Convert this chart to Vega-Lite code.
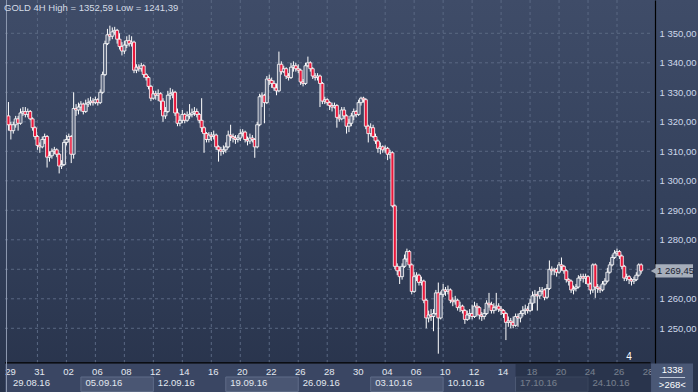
{
"$schema":"https://vega.github.io/schema/vega-lite/v6.json",
"width":698,"height":392,"autosize":{"type":"none"},"padding":0,
"background":"#2a354e",
"title":{"text":"GOLD 4H High = 1352,59 Low = 1241,39","anchor":"start","frame":"group","orient":"top","offset":-12.5,"dx":4,"font":"Liberation Sans","fontSize":9.5,"fontWeight":"normal","color":"#d4dbe6"},
"config":{"view":{"stroke":null,"fill":{"gradient":"linear","x1":0,"y1":0,"x2":0,"y2":1,"stops":[{"offset":0,"color":"#3f4c68"},{"offset":0.5,"color":"#34415c"},{"offset":1,"color":"#28334b"}]}},"axisX":{"disable":true},"text":{"font":"Liberation Sans"}},
"datasets":{
"hg":[{"v":1250},{"v":1260},{"v":1270},{"v":1280},{"v":1290},{"v":1300},{"v":1310},{"v":1320},{"v":1330},{"v":1340},{"v":1350}],
"days":[{"i":0,"lab":"29"},{"i":12,"lab":"31"},{"i":24,"lab":"02"},{"i":36,"lab":"06"},{"i":48,"lab":"08"},{"i":60,"lab":"12"},{"i":72,"lab":"14"},{"i":84,"lab":"16"},{"i":96,"lab":"20"},{"i":108,"lab":"22"},{"i":120,"lab":"26"},{"i":132,"lab":"28"},{"i":144,"lab":"30"},{"i":156,"lab":"04"},{"i":168,"lab":"06"},{"i":180,"lab":"10"},{"i":192,"lab":"12"},{"i":204,"lab":"14"},{"i":216,"lab":"18"},{"i":228,"lab":"20"},{"i":240,"lab":"24"},{"i":252,"lab":"26"},{"i":264,"lab":"28"}],
"weeks":[{"w0":0,"w1":30,"lab":"29.08.16","hl":0},{"w0":30,"w1":60,"lab":"05.09.16","hl":1},{"w0":60,"w1":90,"lab":"12.09.16","hl":0},{"w0":90,"w1":120,"lab":"19.09.16","hl":1},{"w0":120,"w1":150,"lab":"26.09.16","hl":0},{"w0":150,"w1":180,"lab":"03.10.16","hl":1},{"w0":180,"w1":210,"lab":"10.10.16","hl":0},{"w0":210,"w1":240,"lab":"17.10.16","hl":1},{"w0":240,"w1":270,"lab":"24.10.16","hl":0}],
"last":[{"c":1269.45,"lab":"1 269,45","bars":"1338","cnt":">268<","n":"4"}],
"bars":[
{"i":0,"o":1322,"h":1326.7,"l":1317,"c":1319},
{"i":1,"o":1319,"h":1320,"l":1314,"c":1317},
{"i":2,"o":1317,"h":1320,"l":1316,"c":1319},
{"i":3,"o":1319,"h":1322,"l":1318,"c":1321},
{"i":4,"o":1321,"h":1322,"l":1317,"c":1319.5},
{"i":5,"o":1319.5,"h":1324.5,"l":1319,"c":1323},
{"i":6,"o":1323,"h":1325,"l":1322,"c":1323.5},
{"i":7,"o":1323.5,"h":1325,"l":1321.5,"c":1322.5},
{"i":8,"o":1322.5,"h":1324.5,"l":1321.5,"c":1323.5},
{"i":9,"o":1323.5,"h":1324,"l":1320.5,"c":1321},
{"i":10,"o":1321,"h":1321.5,"l":1317,"c":1318},
{"i":11,"o":1318,"h":1318.5,"l":1314,"c":1315},
{"i":12,"o":1315,"h":1315.5,"l":1310.5,"c":1312},
{"i":13,"o":1312,"h":1313,"l":1309.5,"c":1311.5},
{"i":14,"o":1311.5,"h":1315,"l":1311,"c":1314},
{"i":15,"o":1314,"h":1316,"l":1312.5,"c":1315},
{"i":16,"o":1315,"h":1315.5,"l":1304.5,"c":1308},
{"i":17,"o":1308,"h":1310,"l":1306.5,"c":1308.5},
{"i":18,"o":1308.5,"h":1311,"l":1307.5,"c":1310},
{"i":19,"o":1310,"h":1311.5,"l":1309,"c":1310.5},
{"i":20,"o":1310.5,"h":1311,"l":1308,"c":1309},
{"i":21,"o":1309,"h":1309.5,"l":1302.5,"c":1305},
{"i":22,"o":1305,"h":1307,"l":1304,"c":1305.5},
{"i":23,"o":1305.5,"h":1314,"l":1305,"c":1313},
{"i":24,"o":1313,"h":1315.5,"l":1312,"c":1314},
{"i":25,"o":1314,"h":1316,"l":1313,"c":1315},
{"i":26,"o":1315,"h":1315.5,"l":1306,"c":1309},
{"i":27,"o":1309,"h":1330,"l":1307.5,"c":1324.5},
{"i":28,"o":1324.5,"h":1326,"l":1322,"c":1324},
{"i":29,"o":1324,"h":1326.5,"l":1322.5,"c":1325},
{"i":30,"o":1325,"h":1327,"l":1323.5,"c":1326},
{"i":31,"o":1326,"h":1326.5,"l":1322.5,"c":1323.5},
{"i":32,"o":1323.5,"h":1327.5,"l":1323,"c":1326},
{"i":33,"o":1326,"h":1328,"l":1325,"c":1326.5},
{"i":34,"o":1326.5,"h":1328.5,"l":1325.5,"c":1327},
{"i":35,"o":1327,"h":1328,"l":1325.5,"c":1326.5},
{"i":36,"o":1326.5,"h":1328.5,"l":1326,"c":1327.5},
{"i":37,"o":1327.5,"h":1328,"l":1325.5,"c":1326.5},
{"i":38,"o":1326.5,"h":1331,"l":1326,"c":1330},
{"i":39,"o":1330,"h":1337,"l":1329.5,"c":1336},
{"i":40,"o":1336,"h":1347.5,"l":1335.5,"c":1346.5},
{"i":41,"o":1346.5,"h":1351.5,"l":1346,"c":1349.5},
{"i":42,"o":1349.5,"h":1352.59,"l":1347.5,"c":1349},
{"i":43,"o":1349,"h":1352,"l":1348,"c":1350.5},
{"i":44,"o":1350.5,"h":1352.2,"l":1349.5,"c":1351},
{"i":45,"o":1351,"h":1351.5,"l":1346.5,"c":1348},
{"i":46,"o":1348,"h":1350,"l":1344.5,"c":1345.5},
{"i":47,"o":1345.5,"h":1347,"l":1342.5,"c":1344},
{"i":48,"o":1344,"h":1347.5,"l":1343,"c":1346},
{"i":49,"o":1346,"h":1349,"l":1345,"c":1347.5},
{"i":50,"o":1347.5,"h":1349.5,"l":1345.5,"c":1346.5},
{"i":51,"o":1346.5,"h":1349,"l":1345.5,"c":1347},
{"i":52,"o":1347,"h":1347.5,"l":1336.5,"c":1337.5},
{"i":53,"o":1337.5,"h":1339.5,"l":1336.5,"c":1338.5},
{"i":54,"o":1338.5,"h":1339.5,"l":1337,"c":1338},
{"i":55,"o":1338,"h":1340,"l":1337,"c":1339},
{"i":56,"o":1339,"h":1339.5,"l":1335,"c":1336},
{"i":57,"o":1336,"h":1336.5,"l":1334,"c":1335},
{"i":58,"o":1335,"h":1335.5,"l":1331,"c":1332},
{"i":59,"o":1332,"h":1332.5,"l":1327,"c":1328},
{"i":60,"o":1328,"h":1330.5,"l":1327.5,"c":1329.5},
{"i":61,"o":1329.5,"h":1330.5,"l":1327.5,"c":1329},
{"i":62,"o":1329,"h":1331,"l":1327,"c":1329.5},
{"i":63,"o":1329.5,"h":1330,"l":1324,"c":1327},
{"i":64,"o":1327,"h":1328,"l":1320,"c":1322},
{"i":65,"o":1322,"h":1325,"l":1321,"c":1323.5},
{"i":66,"o":1323.5,"h":1330.5,"l":1323,"c":1329},
{"i":67,"o":1329,"h":1331.5,"l":1327.5,"c":1329.5},
{"i":68,"o":1329.5,"h":1331,"l":1328,"c":1330},
{"i":69,"o":1330,"h":1330.5,"l":1322,"c":1323},
{"i":70,"o":1323,"h":1324.5,"l":1318.5,"c":1319.5},
{"i":71,"o":1319.5,"h":1322,"l":1318.5,"c":1320.5},
{"i":72,"o":1320.5,"h":1324,"l":1319.5,"c":1322.5},
{"i":73,"o":1322.5,"h":1323,"l":1319.5,"c":1320.5},
{"i":74,"o":1320.5,"h":1323.5,"l":1320,"c":1322},
{"i":75,"o":1322,"h":1326,"l":1321,"c":1322.5},
{"i":76,"o":1322.5,"h":1324.5,"l":1321.5,"c":1323},
{"i":77,"o":1323,"h":1325,"l":1322,"c":1323.5},
{"i":78,"o":1323.5,"h":1324.5,"l":1321.5,"c":1322.5},
{"i":79,"o":1322.5,"h":1323,"l":1319.5,"c":1320.5},
{"i":80,"o":1320.5,"h":1328,"l":1316.5,"c":1318},
{"i":81,"o":1318,"h":1318.5,"l":1309.5,"c":1316},
{"i":82,"o":1316,"h":1316.5,"l":1313,"c":1314},
{"i":83,"o":1314,"h":1316.5,"l":1313,"c":1315.5},
{"i":84,"o":1315.5,"h":1316.5,"l":1313.5,"c":1315},
{"i":85,"o":1315,"h":1317,"l":1314,"c":1315.5},
{"i":86,"o":1315.5,"h":1316,"l":1310.5,"c":1311.5},
{"i":87,"o":1311.5,"h":1312,"l":1306.5,"c":1310.5},
{"i":88,"o":1310.5,"h":1311.5,"l":1308.5,"c":1310},
{"i":89,"o":1310,"h":1312,"l":1309,"c":1310.5},
{"i":90,"o":1310.5,"h":1313,"l":1309.5,"c":1311.5},
{"i":91,"o":1311.5,"h":1317,"l":1311,"c":1315.5},
{"i":92,"o":1315.5,"h":1319,"l":1313.5,"c":1315},
{"i":93,"o":1315,"h":1316,"l":1313,"c":1314.5},
{"i":94,"o":1314.5,"h":1315.5,"l":1312.5,"c":1314},
{"i":95,"o":1314,"h":1315.5,"l":1313,"c":1314.5},
{"i":96,"o":1314.5,"h":1317.5,"l":1313.5,"c":1316},
{"i":97,"o":1316,"h":1317.5,"l":1315,"c":1316.5},
{"i":98,"o":1316.5,"h":1317,"l":1313,"c":1314},
{"i":99,"o":1314,"h":1315,"l":1312,"c":1313.5},
{"i":100,"o":1313.5,"h":1316,"l":1312.5,"c":1314.5},
{"i":101,"o":1314.5,"h":1315.5,"l":1313,"c":1314},
{"i":102,"o":1314,"h":1314.5,"l":1307.8,"c":1311.5},
{"i":103,"o":1311.5,"h":1320,"l":1311,"c":1319},
{"i":104,"o":1319,"h":1329.5,"l":1318.5,"c":1328.5},
{"i":105,"o":1328.5,"h":1330,"l":1325,"c":1329},
{"i":106,"o":1329,"h":1329.5,"l":1319.5,"c":1326.5},
{"i":107,"o":1326.5,"h":1335.5,"l":1326,"c":1334.5},
{"i":108,"o":1334.5,"h":1336,"l":1332.5,"c":1334},
{"i":109,"o":1334,"h":1335,"l":1331.5,"c":1333},
{"i":110,"o":1333,"h":1334,"l":1330.5,"c":1331.5},
{"i":111,"o":1331.5,"h":1333,"l":1329,"c":1330.5},
{"i":112,"o":1330.5,"h":1343.8,"l":1330,"c":1339.5},
{"i":113,"o":1339.5,"h":1340.5,"l":1336,"c":1337},
{"i":114,"o":1337,"h":1339,"l":1336.5,"c":1338},
{"i":115,"o":1338,"h":1338.5,"l":1334.5,"c":1335.5},
{"i":116,"o":1335.5,"h":1336.5,"l":1334,"c":1335},
{"i":117,"o":1335,"h":1340,"l":1334.5,"c":1338.5},
{"i":118,"o":1338.5,"h":1340.5,"l":1337,"c":1339},
{"i":119,"o":1339,"h":1340,"l":1337,"c":1338},
{"i":120,"o":1338,"h":1339.5,"l":1336.5,"c":1337.5},
{"i":121,"o":1337.5,"h":1338,"l":1332.5,"c":1333.5},
{"i":122,"o":1333.5,"h":1334.5,"l":1332,"c":1333},
{"i":123,"o":1333,"h":1340,"l":1332.5,"c":1339},
{"i":124,"o":1339,"h":1342.1,"l":1338.5,"c":1340},
{"i":125,"o":1340,"h":1340.5,"l":1337,"c":1338},
{"i":126,"o":1338,"h":1338.5,"l":1334.5,"c":1335.5},
{"i":127,"o":1335.5,"h":1336.5,"l":1334,"c":1335},
{"i":128,"o":1335,"h":1336.5,"l":1334,"c":1335.5},
{"i":129,"o":1335.5,"h":1336,"l":1325,"c":1333},
{"i":130,"o":1333,"h":1333.5,"l":1326,"c":1327},
{"i":131,"o":1327,"h":1328.5,"l":1326,"c":1327.5},
{"i":132,"o":1327.5,"h":1328,"l":1325.5,"c":1326.5},
{"i":133,"o":1326.5,"h":1327,"l":1324,"c":1325.5},
{"i":134,"o":1325.5,"h":1326.5,"l":1323.5,"c":1325},
{"i":135,"o":1325,"h":1326.5,"l":1324.5,"c":1325.5},
{"i":136,"o":1325.5,"h":1326,"l":1318,"c":1321.5},
{"i":137,"o":1321.5,"h":1322.5,"l":1320,"c":1321},
{"i":138,"o":1321,"h":1325,"l":1320.5,"c":1324},
{"i":139,"o":1324,"h":1325,"l":1321,"c":1322},
{"i":140,"o":1322,"h":1322.5,"l":1316,"c":1318.5},
{"i":141,"o":1318.5,"h":1321,"l":1316.5,"c":1319.5},
{"i":142,"o":1319.5,"h":1323,"l":1318.5,"c":1322},
{"i":143,"o":1322,"h":1324.5,"l":1320.5,"c":1323.5},
{"i":144,"o":1323.5,"h":1324,"l":1321.5,"c":1322.5},
{"i":145,"o":1322.5,"h":1327.5,"l":1322,"c":1326.5},
{"i":146,"o":1326.5,"h":1328.5,"l":1325.5,"c":1328},
{"i":147,"o":1328,"h":1328.5,"l":1326.5,"c":1327.5},
{"i":148,"o":1327.5,"h":1328,"l":1317.5,"c":1318.5},
{"i":149,"o":1318.5,"h":1319,"l":1313,"c":1316},
{"i":150,"o":1316,"h":1319.5,"l":1315,"c":1318},
{"i":151,"o":1318,"h":1319,"l":1314.5,"c":1315},
{"i":152,"o":1315,"h":1316,"l":1312.5,"c":1313.5},
{"i":153,"o":1313.5,"h":1314,"l":1309.5,"c":1311},
{"i":154,"o":1311,"h":1313,"l":1309,"c":1311.5},
{"i":155,"o":1311.5,"h":1312,"l":1309.5,"c":1310.5},
{"i":156,"o":1310.5,"h":1312,"l":1309.5,"c":1311},
{"i":157,"o":1311,"h":1311.5,"l":1307,"c":1309},
{"i":158,"o":1309,"h":1310.5,"l":1307.5,"c":1309.5},
{"i":159,"o":1309.5,"h":1310,"l":1291,"c":1291.5},
{"i":160,"o":1291.5,"h":1292,"l":1270,"c":1271},
{"i":161,"o":1271,"h":1272,"l":1268,"c":1269.5},
{"i":162,"o":1269.5,"h":1271,"l":1265,"c":1267.5},
{"i":163,"o":1267.5,"h":1272,"l":1266.5,"c":1271},
{"i":164,"o":1271,"h":1275,"l":1270.5,"c":1273.5},
{"i":165,"o":1273.5,"h":1277,"l":1272.5,"c":1276},
{"i":166,"o":1276,"h":1276.5,"l":1270.5,"c":1271.5},
{"i":167,"o":1271.5,"h":1272,"l":1261.5,"c":1262.5},
{"i":168,"o":1262.5,"h":1269,"l":1262,"c":1267.5},
{"i":169,"o":1267.5,"h":1269,"l":1266,"c":1268},
{"i":170,"o":1268,"h":1268.5,"l":1264.5,"c":1265.5},
{"i":171,"o":1265.5,"h":1267.5,"l":1264.5,"c":1266},
{"i":172,"o":1266,"h":1266.5,"l":1258.5,"c":1259.5},
{"i":173,"o":1259.5,"h":1260,"l":1250,"c":1253.5},
{"i":174,"o":1253.5,"h":1256,"l":1252,"c":1254.5},
{"i":175,"o":1254.5,"h":1256.5,"l":1252.5,"c":1254},
{"i":176,"o":1254,"h":1256.5,"l":1249,"c":1255},
{"i":177,"o":1255,"h":1263,"l":1254.5,"c":1262},
{"i":178,"o":1262,"h":1265.5,"l":1241.39,"c":1253.5},
{"i":179,"o":1253.5,"h":1262.5,"l":1253,"c":1261.5},
{"i":180,"o":1261.5,"h":1265,"l":1260.5,"c":1263},
{"i":181,"o":1263,"h":1264,"l":1261,"c":1262.5},
{"i":182,"o":1262.5,"h":1264.5,"l":1261.5,"c":1263},
{"i":183,"o":1263,"h":1263.5,"l":1258.5,"c":1259.5},
{"i":184,"o":1259.5,"h":1260.5,"l":1257.5,"c":1259},
{"i":185,"o":1259,"h":1261,"l":1258,"c":1259.5},
{"i":186,"o":1259.5,"h":1260,"l":1256,"c":1257},
{"i":187,"o":1257,"h":1259,"l":1255.5,"c":1257.5},
{"i":188,"o":1257.5,"h":1258,"l":1255,"c":1256},
{"i":189,"o":1256,"h":1256.5,"l":1251.5,"c":1253},
{"i":190,"o":1253,"h":1256,"l":1252.5,"c":1254.5},
{"i":191,"o":1254.5,"h":1256.5,"l":1253,"c":1255},
{"i":192,"o":1255,"h":1258,"l":1253,"c":1254},
{"i":193,"o":1254,"h":1259,"l":1253.5,"c":1257.5},
{"i":194,"o":1257.5,"h":1258.5,"l":1254,"c":1257},
{"i":195,"o":1257,"h":1257.5,"l":1253,"c":1254.5},
{"i":196,"o":1254.5,"h":1255.5,"l":1252.5,"c":1254},
{"i":197,"o":1254,"h":1256.5,"l":1253,"c":1255},
{"i":198,"o":1255,"h":1259.5,"l":1254.5,"c":1258.5},
{"i":199,"o":1258.5,"h":1262,"l":1257,"c":1258},
{"i":200,"o":1258,"h":1259,"l":1255,"c":1256},
{"i":201,"o":1256,"h":1258.5,"l":1255,"c":1257},
{"i":202,"o":1257,"h":1262,"l":1256,"c":1257.5},
{"i":203,"o":1257.5,"h":1258.5,"l":1255.5,"c":1256.5},
{"i":204,"o":1256.5,"h":1257.5,"l":1254.5,"c":1256},
{"i":205,"o":1256,"h":1256.5,"l":1253.5,"c":1255},
{"i":206,"o":1255,"h":1255.5,"l":1246,"c":1252},
{"i":207,"o":1252,"h":1254,"l":1250.5,"c":1252.5},
{"i":208,"o":1252.5,"h":1253.5,"l":1250,"c":1252},
{"i":209,"o":1252,"h":1254,"l":1250,"c":1251},
{"i":210,"o":1251,"h":1255,"l":1250.5,"c":1254},
{"i":211,"o":1254,"h":1255,"l":1250.5,"c":1253.5},
{"i":212,"o":1253.5,"h":1256,"l":1252,"c":1255},
{"i":213,"o":1255,"h":1257.5,"l":1254,"c":1256},
{"i":214,"o":1256,"h":1258,"l":1254.5,"c":1256.5},
{"i":215,"o":1256.5,"h":1257.5,"l":1255,"c":1256},
{"i":216,"o":1256,"h":1260,"l":1255.5,"c":1258.5},
{"i":217,"o":1258.5,"h":1262.5,"l":1256,"c":1261},
{"i":218,"o":1261,"h":1263,"l":1258.5,"c":1261.5},
{"i":219,"o":1261.5,"h":1262.5,"l":1256,"c":1261},
{"i":220,"o":1261,"h":1264,"l":1260,"c":1262.5},
{"i":221,"o":1262.5,"h":1264,"l":1261.5,"c":1263},
{"i":222,"o":1263,"h":1263.5,"l":1259.5,"c":1260.5},
{"i":223,"o":1260.5,"h":1265,"l":1260,"c":1263.5},
{"i":224,"o":1263.5,"h":1273,"l":1263,"c":1270},
{"i":225,"o":1270,"h":1271,"l":1268,"c":1269.5},
{"i":226,"o":1269.5,"h":1270.5,"l":1268,"c":1270},
{"i":227,"o":1270,"h":1270.5,"l":1267.5,"c":1269},
{"i":228,"o":1269,"h":1272.5,"l":1268.5,"c":1271.5},
{"i":229,"o":1271.5,"h":1274,"l":1269.5,"c":1271},
{"i":230,"o":1271,"h":1271.5,"l":1268.5,"c":1269.5},
{"i":231,"o":1269.5,"h":1270,"l":1265.5,"c":1266.5},
{"i":232,"o":1266.5,"h":1267,"l":1264.5,"c":1266},
{"i":233,"o":1266,"h":1266.5,"l":1262,"c":1263},
{"i":234,"o":1263,"h":1264.5,"l":1261.5,"c":1263.5},
{"i":235,"o":1263.5,"h":1265,"l":1262.5,"c":1264},
{"i":236,"o":1264,"h":1268,"l":1263.5,"c":1267},
{"i":237,"o":1267,"h":1268.5,"l":1266,"c":1267.5},
{"i":238,"o":1267.5,"h":1268.5,"l":1265.5,"c":1267},
{"i":239,"o":1267,"h":1268.5,"l":1265,"c":1267.5},
{"i":240,"o":1267.5,"h":1268,"l":1264,"c":1265},
{"i":241,"o":1265,"h":1265.5,"l":1261.5,"c":1263},
{"i":242,"o":1263,"h":1272,"l":1262,"c":1271.5},
{"i":243,"o":1271.5,"h":1272,"l":1260.3,"c":1264},
{"i":244,"o":1264,"h":1265,"l":1262,"c":1263.5},
{"i":245,"o":1263.5,"h":1264.5,"l":1262,"c":1263},
{"i":246,"o":1263,"h":1266,"l":1262.5,"c":1265},
{"i":247,"o":1265,"h":1267,"l":1264.5,"c":1266},
{"i":248,"o":1266,"h":1270.5,"l":1265.5,"c":1269},
{"i":249,"o":1269,"h":1272.5,"l":1268.5,"c":1271.5},
{"i":250,"o":1271.5,"h":1275,"l":1271,"c":1274},
{"i":251,"o":1274,"h":1276.5,"l":1273.5,"c":1275.5},
{"i":252,"o":1275.5,"h":1277,"l":1274.5,"c":1276},
{"i":253,"o":1276,"h":1276.5,"l":1273.5,"c":1274.5},
{"i":254,"o":1274.5,"h":1275,"l":1270,"c":1271},
{"i":255,"o":1271,"h":1271.5,"l":1266,"c":1267},
{"i":256,"o":1267,"h":1268.5,"l":1266,"c":1267.5},
{"i":257,"o":1267.5,"h":1268,"l":1265,"c":1266.5},
{"i":258,"o":1266.5,"h":1267,"l":1264.5,"c":1266},
{"i":259,"o":1266,"h":1267.5,"l":1265,"c":1266.5},
{"i":260,"o":1266.5,"h":1269,"l":1266,"c":1268},
{"i":261,"o":1268,"h":1272,"l":1267.5,"c":1271.5},
{"i":262,"o":1271.5,"h":1272,"l":1268.5,"c":1269.45}
]},
"layer":[
{"data":{"name":"hg"},"mark":{"type":"rule","color":"#5a6883","strokeDash":[3,3],"strokeWidth":1},
 "encoding":{"x":{"datum":-1.4286,"type":"quantitative","scale":{"domain":[-1.4286,283.4694],"nice":false,"zero":false}},"x2":{"datum":265.92},
 "y":{"field":"v","type":"quantitative","scale":{"domain":[1228.4,1361.29],"nice":false,"zero":false},
  "axis":{"orient":"right","offset":-43,"title":null,"grid":false,"ticks":false,"labelOverlap":false,"labelBound":false,"values":[1250,1260,1280,1290,1300,1310,1320,1330,1340,1350],"labelExpr":"replace(replace(format(datum.value, ',.2f'), ',', ' '), '.', ',')","labelAlign":"left","labelPadding":4,"labelFont":"Liberation Sans","labelFontSize":9.5,"labelColor":"#cdd7ea","domainColor":"#000000","domainWidth":1.2}}}},
{"data":{"name":"days"},"transform":[{"filter":"datum.i > 0 && datum.i < 264"}],"mark":{"type":"rule","color":"#5a6883","strokeDash":[3,3],"strokeWidth":1},
 "encoding":{"x":{"field":"i","type":"quantitative","scale":{"domain":[-1.4286,283.4694],"nice":false,"zero":false}},
 "y":{"datum":1238.24,"type":"quantitative","scale":{"domain":[1228.4,1361.29],"nice":false,"zero":false}},"y2":{"datum":1361.29}}},
{"data":{"name":"bars"},"mark":{"type":"rule","color":"#ffffff","strokeWidth":1},
 "encoding":{"x":{"field":"i","type":"quantitative","scale":{"domain":[-1.4286,283.4694],"nice":false,"zero":false}},
 "y":{"field":"l","type":"quantitative","scale":{"domain":[1228.4,1361.29],"nice":false,"zero":false}},"y2":{"field":"h"}}},
{"data":{"name":"bars"},"mark":{"type":"bar","size":3,"stroke":"#ffffff","strokeWidth":0.8},
 "encoding":{"x":{"field":"i","type":"quantitative","scale":{"domain":[-1.4286,283.4694],"nice":false,"zero":false}},
 "y":{"field":"o","type":"quantitative","scale":{"domain":[1228.4,1361.29],"nice":false,"zero":false}},"y2":{"field":"c"},
 "color":{"condition":{"test":"datum.c < datum.o","value":"#e8173a"},"value":"#5d6880"}}},
{"data":{"name":"last"},"mark":{"type":"rect","fill":"#3a4663"},
 "encoding":{"x":{"datum":-1.4286,"type":"quantitative","scale":{"domain":[-1.4286,283.4694],"nice":false,"zero":false}},"x2":{"datum":265.92},
 "y":{"datum":1228.4,"type":"quantitative","scale":{"domain":[1228.4,1361.29],"nice":false,"zero":false}},"y2":{"datum":1238.24}}},
{"data":{"name":"weeks"},"transform":[{"filter":"datum.hl == 1"}],"mark":{"type":"rect","fill":"#4a5673","stroke":"#5f6c88","strokeWidth":1},
 "encoding":{"x":{"field":"w0","type":"quantitative","scale":{"domain":[-1.4286,283.4694],"nice":false,"zero":false}},"x2":{"field":"w1"},
 "y":{"datum":1228.6,"type":"quantitative","scale":{"domain":[1228.4,1361.29],"nice":false,"zero":false}},"y2":{"datum":1233.49}}},
{"data":{"name":"days"},"mark":{"type":"text","align":"center","baseline":"middle","dx":2,"fontSize":9.5,"color":"#e3e8f0"},
 "encoding":{"x":{"field":"i","type":"quantitative","scale":{"domain":[-1.4286,283.4694],"nice":false,"zero":false}},
 "y":{"datum":1235.29,"type":"quantitative","scale":{"domain":[1228.4,1361.29],"nice":false,"zero":false}},"text":{"field":"lab"}}},
{"data":{"name":"weeks"},"mark":{"type":"text","align":"left","baseline":"middle","dx":4.5,"fontSize":9.5,"color":"#e3e8f0"},
 "encoding":{"x":{"field":"w0","type":"quantitative","scale":{"domain":[-1.4286,283.4694],"nice":false,"zero":false}},
 "y":{"datum":1231.29,"type":"quantitative","scale":{"domain":[1228.4,1361.29],"nice":false,"zero":false}},"text":{"field":"lab"}}},
{"data":{"name":"last"},"mark":{"type":"rect","fill":"#1c263b","opacity":0.55},
 "encoding":{"x":{"datum":210,"type":"quantitative","scale":{"domain":[-1.4286,283.4694],"nice":false,"zero":false}},"x2":{"datum":265.92},
 "y":{"datum":1228.4,"type":"quantitative","scale":{"domain":[1228.4,1361.29],"nice":false,"zero":false}},"y2":{"datum":1237.9}}},
{"data":{"name":"last"},"mark":{"type":"rule","color":"#000000","strokeWidth":1.2},
 "encoding":{"x":{"datum":-1.4286,"type":"quantitative","scale":{"domain":[-1.4286,283.4694],"nice":false,"zero":false}},"x2":{"datum":265.92},
 "y":{"datum":1238.24,"type":"quantitative","scale":{"domain":[1228.4,1361.29],"nice":false,"zero":false}}}},
{"data":{"name":"last"},"mark":{"type":"rule","color":"#8e9ab0","strokeWidth":1},
 "encoding":{"x":{"datum":-0.816,"type":"quantitative","scale":{"domain":[-1.4286,283.4694],"nice":false,"zero":false}},
 "y":{"datum":1228.4,"type":"quantitative","scale":{"domain":[1228.4,1361.29],"nice":false,"zero":false}},"y2":{"datum":1361.29}}},
{"data":{"name":"last"},"mark":{"type":"text","align":"center","baseline":"middle","fontSize":10,"color":"#ffffff"},
 "encoding":{"x":{"datum":256.94,"type":"quantitative","scale":{"domain":[-1.4286,283.4694],"nice":false,"zero":false}},
 "y":{"datum":1240.27,"type":"quantitative","scale":{"domain":[1228.4,1361.29],"nice":false,"zero":false}},"text":{"field":"n"}}},
{"data":{"name":"last"},"mark":{"type":"point","shape":"triangle-left","filled":true,"size":45,"color":"#a6aebb","opacity":1},
 "encoding":{"x":{"datum":267.2,"type":"quantitative","scale":{"domain":[-1.4286,283.4694],"nice":false,"zero":false}},
 "y":{"field":"c","type":"quantitative","scale":{"domain":[1228.4,1361.29],"nice":false,"zero":false}}}},
{"data":{"name":"last"},"mark":{"type":"rect","fill":"#a6aebb"},
 "encoding":{"x":{"datum":267.9,"type":"quantitative","scale":{"domain":[-1.4286,283.4694],"nice":false,"zero":false}},"x2":{"datum":283.4694},
 "y":{"datum":1267.2,"type":"quantitative","scale":{"domain":[1228.4,1361.29],"nice":false,"zero":false}},"y2":{"datum":1271.7}}},
{"data":{"name":"last"},"mark":{"type":"text","align":"left","baseline":"middle","fontSize":9.5,"color":"#1b2232"},
 "encoding":{"x":{"datum":268.6,"type":"quantitative","scale":{"domain":[-1.4286,283.4694],"nice":false,"zero":false}},
 "y":{"field":"c","type":"quantitative","scale":{"domain":[1228.4,1361.29],"nice":false,"zero":false}},"text":{"field":"lab"}}},
{"data":{"name":"last"},"mark":{"type":"rect","fill":"#4a5876"},
 "encoding":{"x":{"datum":266.1,"type":"quantitative","scale":{"domain":[-1.4286,283.4694],"nice":false,"zero":false}},"x2":{"datum":283.4694},
 "y":{"datum":1228.4,"type":"quantitative","scale":{"domain":[1228.4,1361.29],"nice":false,"zero":false}},"y2":{"datum":1238.1}}},
{"data":{"name":"last"},"mark":{"type":"rule","color":"#c0c8d8","strokeWidth":1},
 "encoding":{"x":{"datum":269.6,"type":"quantitative","scale":{"domain":[-1.4286,283.4694],"nice":false,"zero":false}},"x2":{"datum":280.2},
 "y":{"datum":1233.32,"type":"quantitative","scale":{"domain":[1228.4,1361.29],"nice":false,"zero":false}}}},
{"data":{"name":"last"},"mark":{"type":"text","align":"center","baseline":"middle","fontSize":9.5,"color":"#ffffff"},
 "encoding":{"x":{"datum":274.9,"type":"quantitative","scale":{"domain":[-1.4286,283.4694],"nice":false,"zero":false}},
 "y":{"datum":1235.7,"type":"quantitative","scale":{"domain":[1228.4,1361.29],"nice":false,"zero":false}},"text":{"field":"bars"}}},
{"data":{"name":"last"},"mark":{"type":"text","align":"center","baseline":"middle","fontSize":9.5,"color":"#ffffff"},
 "encoding":{"x":{"datum":274.9,"type":"quantitative","scale":{"domain":[-1.4286,283.4694],"nice":false,"zero":false}},
 "y":{"datum":1230.78,"type":"quantitative","scale":{"domain":[1228.4,1361.29],"nice":false,"zero":false}},"text":{"field":"cnt"}}}
]
}
